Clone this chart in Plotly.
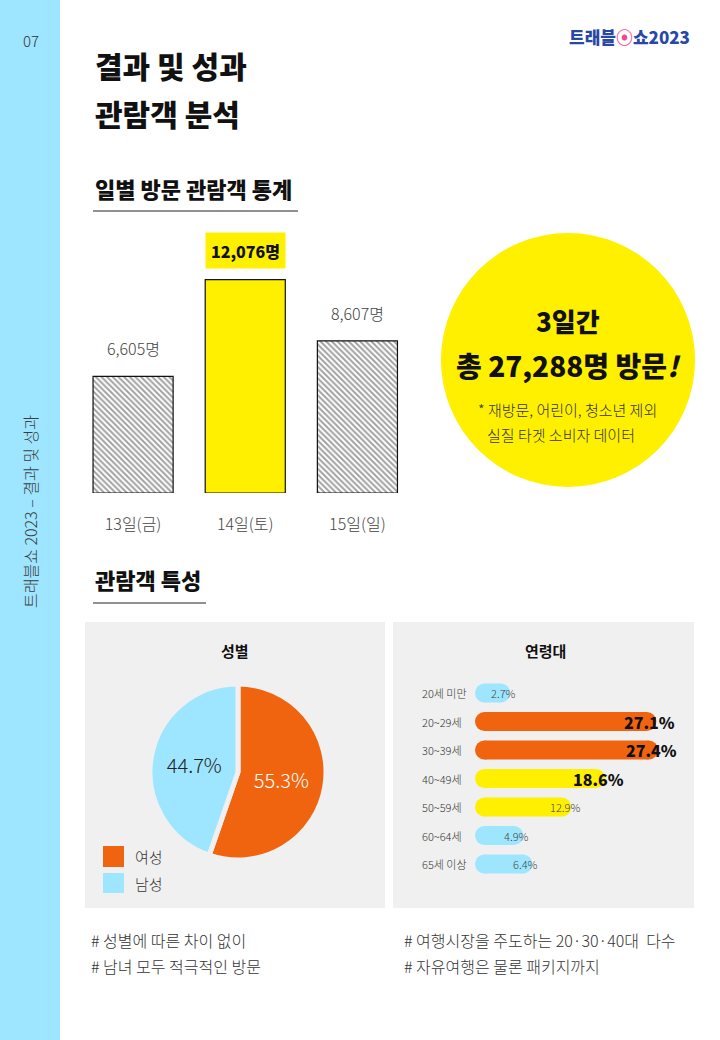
import plotly.graph_objects as go

W, H = 720, 1040
FONT = "Noto Sans CJK KR"

# ---------------- data ----------------
days = ["13일(금)", "14일(토)", "15일(일)"]
visitors = [6605, 12076, 8607]
total_visitors = 27288

gender_labels = ["여성", "남성"]
gender_vals = [55.3, 44.7]

age_groups = ["20세 미만", "20~29세", "30~39세", "40~49세", "50~59세", "60~64세", "65세 이상"]
age_vals = [2.7, 27.1, 27.4, 18.6, 12.9, 4.9, 6.4]

# ---------------- styles ----------------
YELLOW = "#FFF000"
ORANGE = "#F0640F"
SKY = "#9EE6FF"
PANEL = "#F0F0F0"
TXT = "#333333"


def X(p):
    return p / W


def Y(p):
    return 1 - p / H


fig = go.Figure()

# ---- daily visitors bar chart ----
vmax = max(visitors)
bar_colors = [YELLOW if v == vmax else "white" for v in visitors]
bar_patterns = ["" if v == vmax else "\\" for v in visitors]
fig.add_trace(go.Bar(
    x=days, y=visitors, width=0.714,
    marker=dict(color=bar_colors,
                pattern=dict(shape=bar_patterns, fgcolor="#000", size=4, solidity=0.5),
                line=dict(color="#111", width=1.2)),
    xaxis="x", yaxis="y", showlegend=False, hoverinfo="x+y",
))

# ---- gender pie ----
fig.add_trace(go.Pie(
    labels=gender_labels, values=gender_vals, sort=False, direction="clockwise", rotation=0,
    marker=dict(colors=[ORANGE, SKY], line=dict(color=PANEL, width=5)),
    texttemplate="%{value:.1f}%", textposition="inside", insidetextorientation="horizontal",
    insidetextfont=dict(family=FONT, size=20, weight=300, color=["white", "#222"]),
    domain=dict(x=[X(150), X(326)], y=[Y(860), Y(684)]),
    showlegend=False, hoverinfo="label+value",
))

# ---- age bars (pill shaped: bar + round caps) ----
def age_color(v):
    if v >= 20:
        return ORANGE
    if v >= 10:
        return YELLOW
    return SKY

age_colors = [age_color(v) for v in age_vals]
fig.add_trace(go.Bar(
    x=age_vals, y=age_groups, orientation="h", width=0.667,
    marker=dict(color=age_colors, line=dict(width=0)),
    xaxis="x2", yaxis="y2", showlegend=False, hoverinfo="y+x",
))
fig.add_trace(go.Scatter(
    x=[0] * len(age_vals), y=age_groups, mode="markers",
    marker=dict(size=19, color=age_colors, line=dict(width=0)),
    xaxis="x2", yaxis="y2", showlegend=False, hoverinfo="skip", cliponaxis=False,
))
fig.add_trace(go.Scatter(
    x=age_vals, y=age_groups, mode="markers",
    marker=dict(size=19, color=age_colors, line=dict(width=0)),
    xaxis="x2", yaxis="y2", showlegend=False, hoverinfo="skip", cliponaxis=False,
))

# ---------------- shapes ----------------
shapes = [
    dict(type="rect", xref="paper", yref="paper", x0=0, x1=X(60), y0=0, y1=1,
         fillcolor=SKY, line=dict(width=0), layer="below"),
    dict(type="line", xref="paper", yref="paper", x0=X(93), x1=X(298), y0=Y(211), y1=Y(211),
         line=dict(color="#222", width=1)),
    dict(type="line", xref="paper", yref="paper", x0=X(93), x1=X(206), y0=Y(603), y1=Y(603),
         line=dict(color="#222", width=1)),
    dict(type="circle", xref="paper", yref="paper", x0=X(441), x1=X(695), y0=Y(487), y1=Y(233),
         fillcolor=YELLOW, line=dict(width=0), layer="below"),
    dict(type="rect", xref="paper", yref="paper", x0=X(85), x1=X(385), y0=Y(908), y1=Y(622),
         fillcolor=PANEL, line=dict(width=0), layer="below"),
    dict(type="rect", xref="paper", yref="paper", x0=X(393), x1=X(694), y0=Y(908), y1=Y(622),
         fillcolor=PANEL, line=dict(width=0), layer="below"),
    dict(type="rect", xref="paper", yref="paper", x0=X(103), x1=X(124), y0=Y(867), y1=Y(846),
         fillcolor=ORANGE, line=dict(width=0)),
    dict(type="rect", xref="paper", yref="paper", x0=X(103), x1=X(124), y0=Y(893), y1=Y(873),
         fillcolor=SKY, line=dict(width=0)),
]

# ---------------- annotations ----------------
ann = []


def txt(x, y, text, size, color=TXT, xanchor="left", weight=300, angle=0):
    ann.append(dict(x=X(x), y=Y(y), xref="paper", yref="paper", showarrow=False,
                    text=text, textangle=angle, xanchor=xanchor, yanchor="middle",
                    font=dict(family=FONT, size=size, color=color, weight=weight)))


txt(21, 41, "07", 15, "#333")
txt(30, 512, "트래블쇼 2023 – 결과 및 성과", 16, "#3c3c3c", xanchor="center", angle=-90)
txt(93, 65, "결과 및 성과", 30, "#111", weight=900)
txt(93, 113, "관람객 분석", 30, "#111", weight=900)
txt(629, 37, "트래블<span style='color:#F0488F'>⦿</span>쇼2023", 17, "#2748A8",
    xanchor="center", weight=900)
txt(93, 188, "일별 방문 관람객 통계", 22, "#111", weight=900)
txt(93, 579, "관람객 특성", 22, "#111", weight=900)

# circle text
txt(568, 320, "3일간", 26, "#111", xanchor="center", weight=900)
txt(568, 365, f"총 {total_visitors:,}명 방문<i>!</i>", 28, "#111", xanchor="center", weight=900)
txt(567, 410, "* 재방문, 어린이, 청소년 제외", 15, TXT, xanchor="center")
txt(561, 434, "실질 타겟 소비자 데이터", 15, TXT, xanchor="center")

# panel titles / legend
txt(235, 650, "성별", 15, "#111", xanchor="center", weight=700)
txt(545, 650, "연령대", 15, "#111", xanchor="center", weight=700)
txt(133, 856, gender_labels[0], 15, TXT)
txt(133, 883, gender_labels[1], 15, TXT)

# bottom notes
txt(89, 940, "# 성별에 따른 차이 없이", 16, TXT)
txt(89, 966, "# 남녀 모두 적극적인 방문", 16, TXT)
txt(402, 940, "# 여행시장을 주도하는 20·30·40대  다수", 16, TXT)
txt(402, 966, "# 자유여행은 물론 패키지까지", 16, TXT)

# bar value labels
for d, v in zip(days, visitors):
    if v == vmax:
        ann.append(dict(x=d, y=v, xref="x", yref="y", showarrow=False, yanchor="bottom", yshift=11,
                        text=f"{v:,}명", bgcolor=YELLOW, width=79, height=35, borderpad=0,
                        font=dict(family=FONT, size=16, color="#111", weight=900)))
    else:
        ann.append(dict(x=d, y=v, xref="x", yref="y", showarrow=False, yanchor="bottom", yshift=14,
                        text=f"{v:,}명", font=dict(family=FONT, size=16, color="#444", weight=300)))

# age category labels (left aligned) and value labels
for g, v in zip(age_groups, age_vals):
    ann.append(dict(x=X(420), y=g, xref="paper", yref="y2", showarrow=False, xanchor="left",
                    text=g, font=dict(family=FONT, size=11, color="#333", weight=300)))
    big = v >= 15
    ann.append(dict(x=v, y=g, xref="x2", yref="y2", showarrow=False, xanchor="center", xshift=3,
                    text=f"{v}%",
                    font=dict(family=FONT, size=16 if big else 11, color="#111" if big else "#444",
                              weight=900 if big else 300)))

fig.update_layout(
    width=W, height=H, margin=dict(l=0, r=0, t=0, b=0),
    paper_bgcolor="white", plot_bgcolor="rgba(0,0,0,0)",
    font=dict(family=FONT),
    shapes=shapes, annotations=ann,
    xaxis=dict(domain=[X(77), X(413.5)], type="category", showgrid=False, zeroline=False,
               showline=False, ticks="outside", ticklen=17, tickcolor="rgba(0,0,0,0)",
               tickfont=dict(family=FONT, size=16, color="#444", weight=300), fixedrange=True),
    yaxis=dict(domain=[Y(493), Y(228)], range=[0, 15000], visible=False, fixedrange=True),
    xaxis2=dict(domain=[X(475), X(694)], range=[-1.586, 34.97], visible=False, anchor="y2",
                fixedrange=True),
    yaxis2=dict(domain=[Y(878.25), Y(678.75)], type="category", categoryorder="array",
                categoryarray=age_groups, range=[6.5, -0.5], visible=False, anchor="x2",
                fixedrange=True),
)

fig.write_html("out.html")
